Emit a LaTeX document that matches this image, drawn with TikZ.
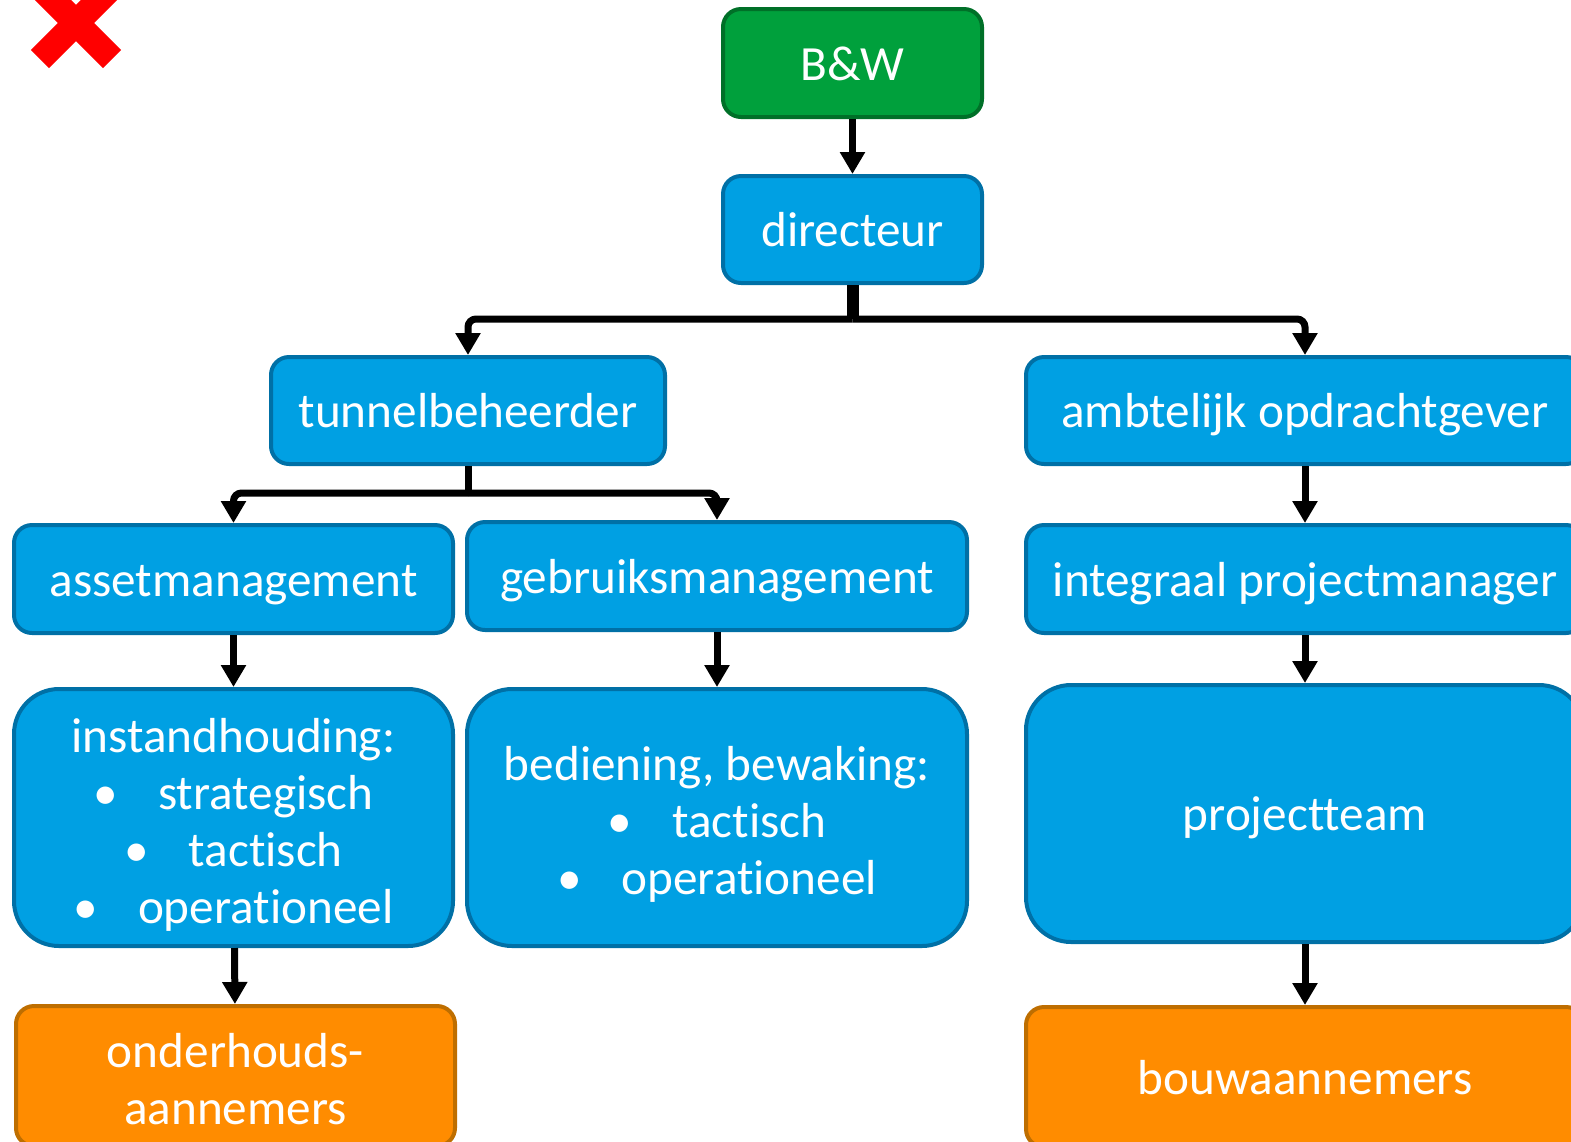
\documentclass[tikz,border=0pt]{standalone}
\usepackage{fontspec}
\setmainfont{Carlito}[Ligatures=NoCommon]
\usetikzlibrary{arrows.meta}

\definecolor{boxblue}{RGB}{0,160,227}
\definecolor{blueline}{RGB}{0,112,166}
\definecolor{boxgreen}{RGB}{0,160,60}
\definecolor{greenline}{RGB}{0,112,40}
\definecolor{boxorange}{RGB}{255,140,0}
\definecolor{orangeline}{RGB}{190,110,0}
\newcommand{\linestrut}{\rule[-1.05mm]{0pt}{5.5mm}}
\newcommand{\topstrut}{\rule{0pt}{5.1mm}}

\begin{document}
\begin{tikzpicture}[x=0.1mm,y=-0.1mm,
  box/.style={draw=blueline, fill=boxblue, line width=0.4mm, rounded corners=1.8mm,
    text=white, font=\fontsize{14}{16.2}\selectfont, inner sep=0pt, align=center,
    execute at begin node=\linestrut, execute at end node=\linestrut},
  bigbox/.style={box, rounded corners=4.5mm},
  topbox/.style={box, draw=greenline, fill=boxgreen},
  endbox/.style={box, draw=orangeline, fill=boxorange},
  link/.style={line width=0.7mm, rounded corners=0.8mm, -{Triangle[width=2.4mm,length=2.2mm]}}]
  \useasboundingbox (0,0) rectangle (1571,1141);
  \clip (0,0) rectangle (1571,1141);

  %Define nodes
  \node[topbox, minimum width=25.9mm, minimum height=10.8mm] (bw) at (852.5,63) {B\&W};
  \node[box, minimum width=25.9mm, minimum height=10.7mm] (directeur) at (852.5,229.5) {directeur};
  \node[box, minimum width=39.4mm, minimum height=10.7mm] (tunnel) at (468,410.5) {tunnelbeheerder};
  \node[box, minimum width=55.8mm, minimum height=10.7mm] (ambtelijk) at (1305,410.5) {ambtelijk opdrachtgever};
  \node[box, minimum width=43.9mm, minimum height=10.8mm] (asset) at (233.5,579) {assetmanagement};
  \node[box, minimum width=50mm, minimum height=10.8mm] (gebruik) at (717,576) {gebruiksmanagement};
  \node[box, minimum width=55.8mm, minimum height=10.8mm] (integraal) at (1305,579) {integraal projectmanager};
  \node[bigbox, minimum width=43.9mm, minimum height=25.7mm] (instand) at (233.5,817.5)
    {\topstrut instandhouding:\\ •\hspace{4mm}strategisch\\ •\hspace{4mm}tactisch\\ •\hspace{4mm}operationeel};
  \node[bigbox, minimum width=50mm, minimum height=25.7mm] (bediening) at (717,817.5)
    {\topstrut bediening, bewaking:\\ •\hspace{4mm}tactisch\\ •\hspace{4mm}operationeel};
  \node[bigbox, minimum width=55.8mm, minimum height=25.7mm] (team) at (1305,813.5) {projectteam};
  \node[endbox, minimum width=43.9mm, minimum height=14mm] (onderhoud) at (235.5,1076)
    {\topstrut onderhouds-\\aannemers};
  \node[endbox, minimum width=55.8mm, minimum height=14mm] (bouw) at (1305,1077) {bouwaannemers};

  \coordinate (split_top) at (852.5,319);
  \coordinate (split_mid) at (468,493);

  % Connect the nodes
  \draw[link] (bw) -- (directeur);
  \draw[line width=1.2mm] (directeur) -- (split_top);
  \draw[link] (split_top) -| (tunnel);
  \draw[link] (split_top) -| (ambtelijk);
  \draw[line width=0.7mm] (tunnel) -- (split_mid);
  \draw[link] (split_mid) -| (asset);
  \draw[link] (split_mid) -| (gebruik);
  \draw[link] (asset) -- (instand);
  \draw[link] (gebruik) -- (bediening);
  \draw[link] (instand) -- (onderhoud);
  \draw[link] (ambtelijk) -- (integraal);
  \draw[link] (integraal) -- (team);
  \draw[link] (team) -- (bouw);

  % red cross
  \draw[red, line width=2.55mm] (40,-13) -- (112,59) (112,-13) -- (40,59);
\end{tikzpicture}
\end{document}
